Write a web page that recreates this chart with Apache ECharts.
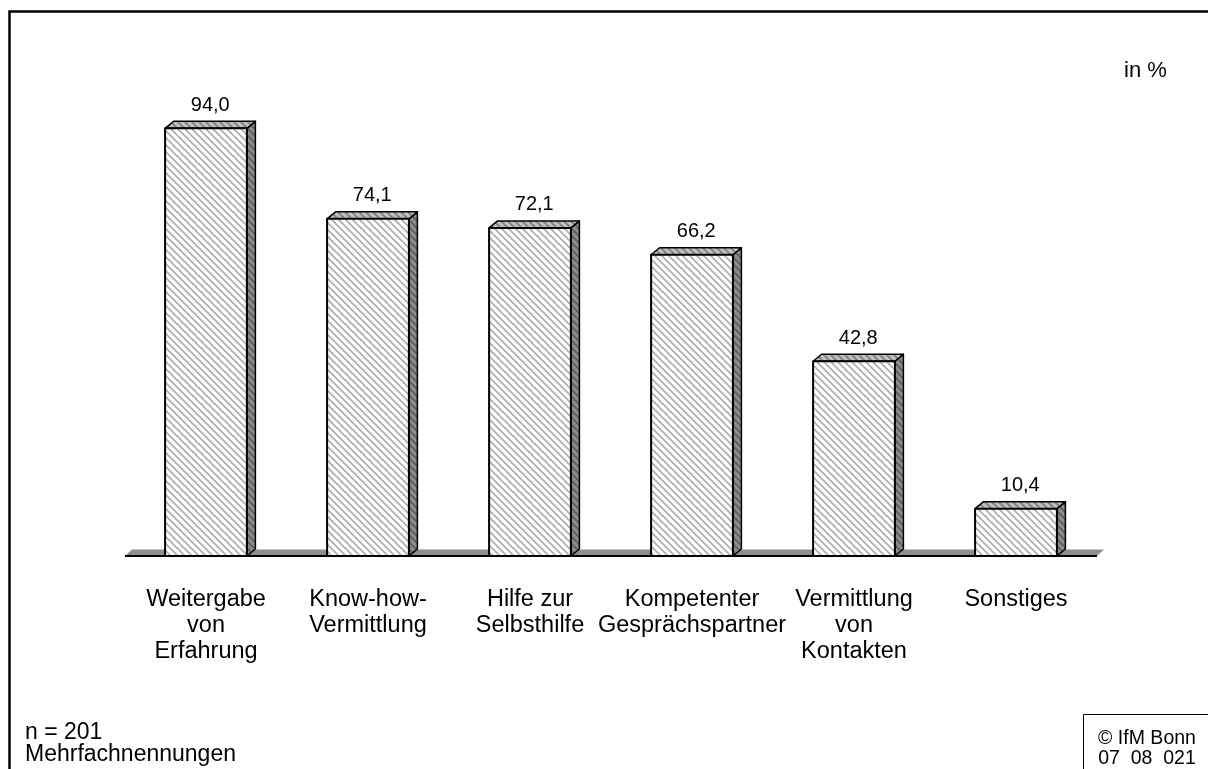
<!DOCTYPE html>
<html>
<head>
<meta charset="utf-8">
<script src="https://cdn.jsdelivr.net/npm/echarts@6/dist/echarts.min.js"></script>
<style>
html,body{margin:0;padding:0;background:#fff;}
#chart{width:1208px;height:769px;}
</style>
</head>
<body>
<div id="chart"></div>
<script>
const categories = ['Weitergabe\nvon\nErfahrung', 'Know-how-\nVermittlung', 'Hilfe zur\nSelbsthilfe', 'Kompetenter\nGesprächspartner', 'Vermittlung\nvon\nKontakten', 'Sonstiges'];
const values = [94.0, 74.1, 72.1, 66.2, 42.8, 10.4];
const unitLabel = 'in %';
const noteLines = ['n = 201', 'Mehrfachnennungen'];
const sourceLines = ['© IfM Bonn', '07  08  021'];

const FONT = 'Arial, "Liberation Sans", sans-serif';

function makePattern(bg, fg, s, lw) {
  const c = document.createElement('canvas');
  c.width = s; c.height = s;
  const ctx = c.getContext('2d');
  ctx.fillStyle = bg; ctx.fillRect(0, 0, s, s);
  ctx.strokeStyle = fg; ctx.lineWidth = lw;
  for (let k = -1; k <= 1; k++) {
    ctx.beginPath();
    ctx.moveTo(k * s - 1, -1);
    ctx.lineTo(k * s + s + 1, s + 1);
    ctx.stroke();
  }
  return { image: c, repeat: 'repeat' };
}
const frontFill = makePattern('#ffffff', '#ababab', 7, 1.6);
const topFill = makePattern('#c0c0c0', '#808080', 7, 1.8);
const sideFill = makePattern('#8c8c8c', '#5e5e5e', 7, 1.8);

const DX = 8.5, DY = 7;

const chart = echarts.init(document.getElementById('chart'), null, { renderer: 'canvas' });

const option = {
  backgroundColor: '#ffffff',
  animation: false,
  grid: { left: 125, right: 111, top: 101, bottom: 213, containLabel: false },
  xAxis: {
    type: 'category',
    data: categories,
    axisLine: { show: false },
    axisTick: { show: false },
    splitLine: { show: false },
    axisLabel: {
      interval: 0,
      margin: 31,
      color: '#000',
      fontSize: 23.5,
      lineHeight: 26,
      fontFamily: FONT,
      align: 'center'
    }
  },
  yAxis: {
    type: 'value',
    min: 0,
    max: 100,
    show: false
  },
  series: [
    {
      type: 'custom',
      z: 1,
      silent: true,
      data: [[0, 0]],
      renderItem: function (params, api) {
        const cs = params.coordSys;
        const yB = api.coord([0, 0])[1];
        const fdx = 7, fdy = 6.5;
        return {
          type: 'group',
          children: [
            {
              type: 'polygon',
              shape: { points: [[cs.x, yB], [cs.x + fdx, yB - fdy], [cs.x + cs.width + fdx, yB - fdy], [cs.x + cs.width, yB]] },
              style: { fill: '#8e8e8e', stroke: 'none' }
            },
            {
              type: 'line',
              shape: { x1: cs.x, y1: yB, x2: cs.x + cs.width, y2: yB },
              style: { stroke: '#000', lineWidth: 2 }
            }
          ]
        };
      }
    },
    {
      type: 'custom',
      z: 2,
      data: values.map((v, i) => [i, v]),
      encode: { x: 0, y: 1 },
      renderItem: function (params, api) {
        const idx = api.value(0);
        const val = api.value(1);
        const top = api.coord([idx, val]);
        const base = api.coord([idx, 0]);
        const bw = api.size([1, 0])[0] * 0.505;
        const x0 = top[0] - bw / 2, x1 = top[0] + bw / 2;
        const yT = top[1], yB = base[1];
        const lineStyle = { stroke: '#000', lineWidth: 1.5, lineJoin: 'round' };
        return {
          type: 'group',
          children: [
            {
              type: 'polygon',
              shape: { points: [[x1, yT], [x1 + DX, yT - DY], [x1 + DX, yB - DY], [x1, yB]] },
              style: Object.assign({ fill: sideFill }, lineStyle)
            },
            {
              type: 'polygon',
              shape: { points: [[x0, yT], [x0 + DX, yT - DY], [x1 + DX, yT - DY], [x1, yT]] },
              style: Object.assign({ fill: topFill }, lineStyle)
            },
            {
              type: 'rect',
              shape: { x: x0, y: yT, width: bw, height: yB - yT },
              style: Object.assign({ fill: frontFill }, lineStyle, { lineWidth: 2 })
            },
            {
              type: 'text',
              style: {
                x: (x0 + x1) / 2 + DX / 2,
                y: yT - DY - 6,
                text: val.toFixed(1).replace('.', ','),
                align: 'center',
                verticalAlign: 'bottom',
                fill: '#000',
                fontSize: 20,
                fontFamily: FONT
              }
            }
          ]
        };
      }
    }
  ],
  graphic: [
    {
      type: 'rect',
      silent: true,
      shape: { x: 9.5, y: 11.5, width: 1400, height: 1000 },
      style: { fill: 'none', stroke: '#000', lineWidth: 2.5 }
    },
    {
      type: 'text',
      left: 1124, top: 60,
      style: { text: unitLabel, fill: '#000', fontSize: 22, fontFamily: FONT }
    },
    {
      type: 'text',
      left: 25, top: 721,
      style: { text: noteLines.join('\n'), fill: '#000', fontSize: 23, lineHeight: 22, fontFamily: FONT }
    },
    {
      type: 'rect',
      silent: true,
      shape: { x: 1083.5, y: 714.5, width: 300, height: 200 },
      style: { fill: '#fff', stroke: '#000', lineWidth: 1 }
    },
    {
      type: 'text',
      style: { x: 1147, y: 749, text: sourceLines.join('\n'), align: 'center', verticalAlign: 'middle', fill: '#000', fontSize: 19.5, lineHeight: 20, fontFamily: FONT }
    }
  ]
};
chart.setOption(option);
</script>
</body>
</html>
